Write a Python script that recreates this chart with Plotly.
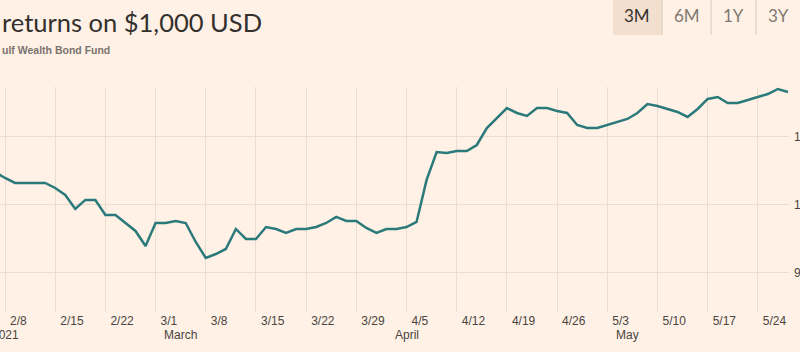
import plotly.graph_objects as go

dates = [
    "2021-02-05", "2021-02-08", "2021-02-09", "2021-02-10", "2021-02-11", "2021-02-12",
    "2021-02-15", "2021-02-16", "2021-02-17", "2021-02-18", "2021-02-19",
    "2021-02-22", "2021-02-23", "2021-02-24", "2021-02-25", "2021-02-26",
    "2021-03-01", "2021-03-02", "2021-03-03", "2021-03-04", "2021-03-05",
    "2021-03-08", "2021-03-09", "2021-03-10", "2021-03-11", "2021-03-12",
    "2021-03-15", "2021-03-16", "2021-03-17", "2021-03-18", "2021-03-19",
    "2021-03-22", "2021-03-23", "2021-03-24", "2021-03-25", "2021-03-26",
    "2021-03-29", "2021-03-30", "2021-03-31", "2021-04-01", "2021-04-02",
    "2021-04-05", "2021-04-06", "2021-04-07", "2021-04-08", "2021-04-09",
    "2021-04-12", "2021-04-13", "2021-04-14", "2021-04-15", "2021-04-16",
    "2021-04-19", "2021-04-20", "2021-04-21", "2021-04-22", "2021-04-23",
    "2021-04-26", "2021-04-27", "2021-04-28", "2021-04-29", "2021-04-30",
    "2021-05-03", "2021-05-04", "2021-05-05", "2021-05-06", "2021-05-07",
    "2021-05-10", "2021-05-11", "2021-05-12", "2021-05-13", "2021-05-14",
    "2021-05-17", "2021-05-18", "2021-05-19", "2021-05-20", "2021-05-21",
    "2021-05-24", "2021-05-25", "2021-05-26", "2021-05-27",
]

values = [
    1004.85, 1003.97, 1003.24, 1003.24, 1003.24, 1003.24,
    1002.50, 1001.47, 999.41, 1000.74, 1000.74,
    998.53, 998.53, 997.35, 996.18, 993.97,
    997.35, 997.35, 997.65, 997.35, 994.56,
    992.21, 992.79, 993.53, 996.47, 995.00,
    995.00, 996.76, 996.47, 995.88, 996.47,
    996.47, 996.76, 997.35, 998.24, 997.65,
    997.65, 996.62, 995.88, 996.47, 996.47,
    996.76, 997.50, 1003.68, 1007.79, 1007.65,
    1007.94, 1007.94, 1008.82, 1011.32, 1012.79,
    1014.26, 1013.53, 1013.09, 1014.26, 1014.26,
    1013.82, 1013.53, 1011.76, 1011.32, 1011.32,
    1011.76, 1012.21, 1012.65, 1013.53, 1014.85,
    1014.56, 1014.12, 1013.68, 1012.94, 1014.12,
    1015.59, 1015.88, 1015.00, 1015.00, 1015.44,
    1015.88, 1016.32, 1017.06, 1016.62,
]

week_ticks = [
    "2021-02-08", "2021-02-15", "2021-02-22", "2021-03-01", "2021-03-08",
    "2021-03-15", "2021-03-22", "2021-03-29", "2021-04-05", "2021-04-12",
    "2021-04-19", "2021-04-26", "2021-05-03", "2021-05-10", "2021-05-17",
    "2021-05-24",
]
week_labels = ["2/8", "2/15", "2/22", "3/1", "3/8", "3/15", "3/22", "3/29",
               "4/5", "4/12", "4/19", "4/26", "5/3", "5/10", "5/17", "5/24"]

month_dates = ["2021-02-08", "2021-03-01", "2021-04-05", "2021-05-03"]
month_labels = ["2021", "March", "April", "May"]
month_anchor = ["center", "left", "center", "left"]
month_shift = [0, 6, 0, 7]

y_ticks = [990, 1000, 1010]
y_labels = ["990", "1,000", "1,010"]

range_buttons = ["3M", "6M", "1Y", "3Y"]

BG = "#fff1e5"
GRID = "#e9ddd1"
LINE = "#2b7a7b"
TEXT = "#33302e"
TICK = "#4a4542"

W, H = 800, 352
M_L, M_R, M_T, M_B = 0, 11, 87, 40

fig = go.Figure()
fig.add_trace(go.Scatter(
    x=dates, y=values, mode="lines",
    line=dict(color=LINE, width=2.5),
    hoverinfo="x+y", showlegend=False,
))

fig.update_layout(
    width=W, height=H,
    margin=dict(l=M_L, r=M_R, t=M_T, b=M_B, autoexpand=False),
    paper_bgcolor=BG, plot_bgcolor=BG,
    font=dict(family="Liberation Sans, Arial, sans-serif", size=12, color=TICK),
    xaxis=dict(
        type="date", automargin=False,
        rangebreaks=[dict(bounds=["sat", "mon"])],
        range=["2021-02-05 12:00", "2021-05-27 02:30"],
        tickmode="array", tickvals=week_ticks, ticktext=week_labels,
        ticklabelposition="outside right",
        ticklabelshift=5,
        showgrid=True, gridcolor=GRID, gridwidth=1,
        showline=False, zeroline=False, ticks="",
        tickfont=dict(family="Liberation Sans, Arial, sans-serif", size=12, color=TICK),
        fixedrange=True,
    ),
    yaxis=dict(
        side="right", automargin=False,
        range=[984.26, 1017.35],
        tickmode="array", tickvals=y_ticks, ticktext=y_labels,
        showgrid=True, gridcolor=GRID, gridwidth=1,
        zeroline=False, showline=False, ticks="",
        ticklabelstandoff=4,
        tickfont=dict(family="Liberation Sans, Arial, sans-serif", size=12, color=TICK),
        fixedrange=True,
    ),
)

plot_h = H - M_T - M_B
plot_w = W - M_L - M_R

def px_x(p):
    return (p - M_L) / plot_w

def px_y(p):
    return (H - M_B - p) / plot_h

annotations = []
for d, lab, anc, sh in zip(month_dates, month_labels, month_anchor, month_shift):
    annotations.append(dict(
        x=d, xref="x", y=px_y(335), yref="paper", text=lab, showarrow=False,
        xanchor=anc, yanchor="middle", xshift=sh,
        font=dict(family="Liberation Sans, Arial, sans-serif", size=12, color=TICK),
    ))

annotations.append(dict(
    x=px_x(0), xref="paper", y=px_y(22), yref="paper",
    text="returns on $1,000 USD", showarrow=False, xanchor="left", yanchor="middle",
    font=dict(family="Lato, Open Sans, sans-serif", size=25.5, color=TEXT),
))
annotations.append(dict(
    x=px_x(0), xref="paper", y=px_y(50), yref="paper",
    text="<b>ulf Wealth Bond Fund</b>", showarrow=False, xanchor="left", yanchor="middle",
    font=dict(family="Liberation Sans, Arial, sans-serif", size=10.5, color="#7a736e"),
))

btn_centers = [637, 687, 733, 778]
for i, (lab, cx) in enumerate(zip(range_buttons, btn_centers)):
    annotations.append(dict(
        x=px_x(cx), xref="paper", y=px_y(16), yref="paper",
        text=lab, showarrow=False, xanchor="center", yanchor="middle",
        font=dict(family="Lato, Open Sans, sans-serif", size=17,
                  color=TEXT if i == 0 else "#807973"),
    ))

shapes = [
    dict(type="rect", xref="paper", yref="paper",
         x0=px_x(613), x1=px_x(662), y0=px_y(35), y1=px_y(0),
         fillcolor="#f2dfce", line=dict(width=0), layer="below"),
]
for sx in [662, 711, 756]:
    shapes.append(dict(type="line", xref="paper", yref="paper",
                       x0=px_x(sx), x1=px_x(sx), y0=px_y(35), y1=px_y(0),
                       line=dict(color="#e6d6c8", width=1.5)))

fig.update_layout(annotations=annotations, shapes=shapes)

fig.write_html("out.html", config={"displayModeBar": False})
